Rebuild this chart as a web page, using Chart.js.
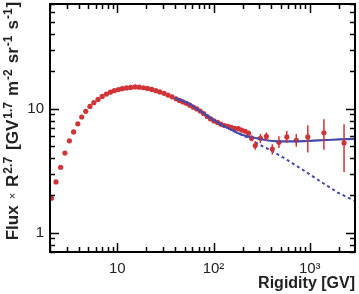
<!DOCTYPE html>
<html lang="en">

<head>
    <meta charset="UTF-8">
    <title>Flux x R^2.7 vs Rigidity</title>
    <style>
        body {
            margin: 0;
            padding: 0;
            background-color: #fff;
        }

        #chart-box {
            width: 359px;
            height: 294px;
        }
    </style>
</head>

<body>
    <div id="chart-box">
        <canvas id="chart"></canvas>
    </div>

    <script src="https://cdn.jsdelivr.net/npm/chart.js"></script>
    <script>
        // measured points (rigidity in GV, flux x R^2.7)
        const rigidity = [2.07, 2.31, 2.58, 2.86, 3.18, 3.52, 3.89, 4.27, 4.70, 5.20, 5.71, 6.31, 6.98, 7.71, 8.48, 9.32,
            10.3, 11.3, 12.5, 13.8, 15.3, 16.9, 18.7, 20.6, 22.8, 25.1, 27.6, 30.6, 33.6, 37.1, 40.8, 44.3, 48.1, 52.2,
            56.7, 61.6, 66.9, 72.7, 78.9, 85.8, 93.2, 101, 110, 119, 130, 141, 153, 166, 181, 196, 213, 231, 248,
            271, 307, 354, 408, 478, 577, 724, 954, 1402, 2270];
        const flux = [1.90, 2.57, 3.37, 4.40, 5.52, 6.51, 7.56, 8.59, 9.54, 10.45, 11.2, 11.9, 12.57, 13.15, 13.62, 14.0,
            14.28, 14.54, 14.73, 14.87, 15.0, 14.95, 14.78, 14.6, 14.33, 14.0, 13.69, 13.32, 12.91, 12.5, 12.05, 11.68, 11.36, 11.06,
            10.70, 10.31, 9.98, 9.59, 9.16, 8.67, 8.29, 7.99, 7.77, 7.52, 7.33, 7.22, 7.09, 6.96, 6.93, 6.74, 6.59, 6.36, 5.80,
            5.06, 5.78, 5.99, 4.73, 5.37, 5.93, 5.57, 5.93, 6.41, 5.31];
        const errLow = [0, 0, 0, 0, 0, 0, 0, 0, 0, 0, 0, 0, 0, 0, 0, 0,
            0, 0, 0, 0, 0, 0, 0, 0, 0, 0, 0, 0, 0, 0, 0, 0, 0, 0,
            0, 0, 0, 0, 0, 0, 0, 0, 0, 0, 0, 0.08, 0.1, 0.12, 0.15, 0.18, 0.2, 0.25, 0.3,
            0.39, 0.50, 0.48, 0.46, 0.55, 0.62, 0.63, 1.48, 1.73, 2.22];
        const errHigh = [0, 0, 0, 0, 0, 0, 0, 0, 0, 0, 0, 0, 0, 0, 0, 0,
            0, 0, 0, 0, 0, 0, 0, 0, 0, 0, 0, 0, 0, 0, 0, 0, 0, 0,
            0, 0, 0, 0, 0, 0, 0, 0, 0, 0, 0, 0.08, 0.1, 0.12, 0.15, 0.18, 0.2, 0.25, 0.3,
            0.44, 0.48, 0.46, 0.45, 0.63, 0.69, 0.69, 1.45, 1.83, 2.21];

        // fit with spectral hardening (solid) and single power law (dashed)
        const fitRigidity = [39.4, 56.1, 71, 89.9, 114, 144, 183, 231, 293, 370, 470, 700, 1000, 1500, 2000, 2900];
        const fitFlux = [12.3, 11.0, 9.71, 8.59, 7.60, 6.94, 6.33, 5.96, 5.75, 5.55, 5.47, 5.47, 5.52, 5.6, 5.66, 5.73];
        const plRigidity = [144, 183, 231, 293, 401, 594, 883, 1306, 1936, 2870];
        const plFlux = [6.94, 6.33, 5.80, 5.18, 4.59, 3.83, 3.15, 2.58, 2.12, 1.82];

        const xTickLabels = { 10: '10', 100: '10\u00b2', 1000: '10\u00b3' };
        const yTickLabels = { 1: '1', 10: '10' };

        const red = '#cf3438';
        const blue = '#4549a8';

        function toPoints(xs, ys) {
            return xs.map((x, i) => ({ x: x, y: ys[i] }));
        }

        function isPow10(v) {
            const l = Math.log10(v);
            return Math.abs(l - Math.round(l)) < 1e-9;
        }

        // vertical error bars on the measured points
        const errorBars = {
            id: 'errorBars',
            afterDatasetsDraw(chart) {
                const ctx = chart.ctx;
                const xs = chart.scales.x;
                const ys = chart.scales.y;
                ctx.save();
                ctx.strokeStyle = red;
                ctx.lineWidth = 1.5;
                rigidity.forEach((r, i) => {
                    if (!errLow[i] && !errHigh[i]) return;
                    const px = xs.getPixelForValue(r);
                    ctx.beginPath();
                    ctx.moveTo(px, ys.getPixelForValue(flux[i] - errLow[i]));
                    ctx.lineTo(px, ys.getPixelForValue(flux[i] + errHigh[i]));
                    ctx.stroke();
                });
                ctx.restore();
            }
        };

        // box frame with inward ticks on every side
        const frameTicks = {
            id: 'frameTicks',
            afterDraw(chart) {
                const ctx = chart.ctx;
                const a = chart.chartArea;
                const xs = chart.scales.x;
                const ys = chart.scales.y;
                ctx.save();
                ctx.strokeStyle = '#000';
                ctx.lineWidth = 1.5;
                ctx.beginPath();
                for (let e = Math.floor(Math.log10(xs.min)); e <= Math.ceil(Math.log10(xs.max)); e++) {
                    for (let k = 1; k <= 9; k++) {
                        const v = k * Math.pow(10, e);
                        if (v < xs.min || v > xs.max) continue;
                        const px = Math.round(xs.getPixelForValue(v)) + 0.5;
                        const len = k === 1 ? 9 : 5;
                        ctx.moveTo(px, a.bottom); ctx.lineTo(px, a.bottom - len);
                        ctx.moveTo(px, a.top); ctx.lineTo(px, a.top + len);
                    }
                }
                for (let e = Math.floor(Math.log10(ys.min)); e <= Math.ceil(Math.log10(ys.max)); e++) {
                    for (let k = 1; k <= 9; k++) {
                        const v = k * Math.pow(10, e);
                        if (v < ys.min || v > ys.max) continue;
                        const py = Math.round(ys.getPixelForValue(v)) + 0.5;
                        const len = k === 1 ? 9 : 5;
                        ctx.moveTo(a.left, py); ctx.lineTo(a.left + len, py);
                        ctx.moveTo(a.right, py); ctx.lineTo(a.right - len, py);
                    }
                }
                ctx.stroke();
                ctx.lineWidth = 2;
                ctx.strokeRect(a.left, a.top, a.right - a.left, a.bottom - a.top);

                // rotated y title with superscripts
                const bold = 'bold 17px "Liberation Sans", Arial, sans-serif';
                const sup = 'bold 12px "Liberation Sans", Arial, sans-serif';
                const thin = '11px "Liberation Sans", Arial, sans-serif';
                const parts = [
                    ['Flux', bold, 0, 0], ['\u00d7', thin, 0, 6], ['R', bold, 0, 6], ['2.7', sup, 6, 1],
                    ['[GV', bold, 0, 7], ['1.7', sup, 6, 1], ['m', bold, 0, 6], ['-2', sup, 6, 1],
                    ['sr', bold, 0, 6], ['-1', sup, 6, 1], ['s', bold, 0, 6], ['-1', sup, 6, 1], [']', bold, 0, 1]
                ];
                let total = 0;
                parts.forEach(p => {
                    ctx.font = p[1];
                    total += p[3] + ctx.measureText(p[0]).width;
                });
                ctx.translate(17.5, 121);
                ctx.rotate(-Math.PI / 2);
                ctx.fillStyle = '#222';
                ctx.textBaseline = 'alphabetic';
                let u = -total / 2;
                parts.forEach(p => {
                    ctx.font = p[1];
                    u += p[3];
                    ctx.fillText(p[0], u, p[0] === '\u00d7' ? -2 : -p[2]);
                    u += ctx.measureText(p[0]).width;
                });
                ctx.restore();
            }
        };

        new Chart(document.getElementById('chart'), {
            type: 'scatter',
            data: {
                datasets: [{
                    label: 'fit',
                    data: toPoints(fitRigidity, fitFlux),
                    showLine: true,
                    borderColor: blue,
                    borderWidth: 2.2,
                    pointRadius: 0,
                    tension: 0.3,
                    order: 0
                }, {
                    label: 'data',
                    data: toPoints(rigidity, flux),
                    backgroundColor: red,
                    borderWidth: 0,
                    pointRadius: 2.6,
                    order: 1
                }, {
                    label: 'power law',
                    data: toPoints(plRigidity, plFlux),
                    showLine: true,
                    borderColor: blue,
                    borderWidth: 2,
                    borderDash: [3, 3],
                    pointRadius: 0,
                    order: 2
                }]
            },
            options: {
                responsive: true,
                maintainAspectRatio: false,
                animation: false,
                devicePixelRatio: 1,
                layout: {
                    padding: { top: 1, right: 1, left: 0, bottom: 1 }
                },
                plugins: {
                    legend: { display: false },
                    tooltip: { enabled: false }
                },
                scales: {
                    x: {
                        type: 'logarithmic',
                        min: 2,
                        max: 2950,
                        grid: { display: false, drawTicks: false },
                        border: { display: false },
                        afterFit: scale => {
                            scale.height = 41;
                            scale.paddingLeft = 0;
                            scale.paddingRight = 0;
                        },
                        ticks: {
                            autoSkip: false,
                            maxRotation: 0,
                            padding: 8,
                            color: '#222',
                            font: { family: '"Liberation Sans", Arial, sans-serif', size: 15 },
                            callback: v => isPow10(v) ? (xTickLabels[Math.round(v)] || '') : ''
                        },
                        title: {
                            display: true,
                            text: 'Rigidity [GV]',
                            align: 'end',
                            color: '#222',
                            padding: { top: 0, bottom: 0 },
                            font: { family: '"Liberation Sans", Arial, sans-serif', size: 16, weight: 'bold' }
                        }
                    },
                    y: {
                        type: 'logarithmic',
                        min: 0.7,
                        max: 70,
                        grid: { display: false, drawTicks: false },
                        border: { display: false },
                        afterFit: scale => {
                            scale.width = 50;
                            scale.paddingTop = 0;
                            scale.paddingBottom = 0;
                        },
                        ticks: {
                            autoSkip: false,
                            padding: 6,
                            color: '#222',
                            font: { family: '"Liberation Sans", Arial, sans-serif', size: 15 },
                            callback: v => isPow10(v) ? (yTickLabels[Math.round(v)] || '') : ''
                        }
                    }
                }
            },
            plugins: [errorBars, frameTicks]
        });
    </script>
</body>

</html>
